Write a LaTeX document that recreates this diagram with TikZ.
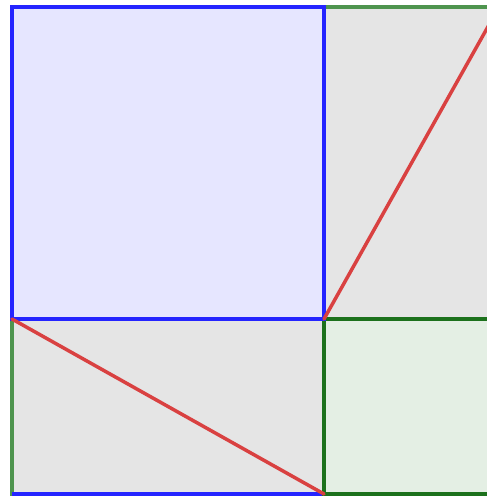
\documentclass[tikz,border=0pt]{standalone}
\begin{document}
\begin{tikzpicture}[x=1pt,y=-1pt,
  lw/.style={line width=3.5pt},
  grayrect/.style={lw, fill=graybg, draw=lightgreen},
  bluesq/.style={lw, fill=bluebg, draw=blueedge},
  greensq/.style={lw, fill=greenbg, draw=darkgreen},
  redline/.style={lw, draw=redline, line cap=round}]
\definecolor{graybg}{HTML}{E5E5E5}
\definecolor{lightgreen}{HTML}{4E944E}
\definecolor{darkgreen}{HTML}{1C711C}
\definecolor{greenbg}{HTML}{E4EFE4}
\definecolor{bluebg}{HTML}{E6E6FF}
\definecolor{blueedge}{HTML}{2424FF}
\definecolor{redline}{HTML}{D94141}
\useasboundingbox (0,0) rectangle (487,496);
\clip (0,0) rectangle (487,496);
\fill[white] (0,0) rectangle (487,496);
% top-right gray rectangle
\draw[grayrect] (324,7) rectangle (499,319);
\coordinate (trbl) at (324,319);
\coordinate (trtr) at (499,7);
% bottom-left gray rectangle
\draw[grayrect] (12,319) rectangle (324,494);
\coordinate (bltl) at (12,319);
\coordinate (blbr) at (324,494);
\draw[lw, draw=blueedge] (12,494) -- (324,494);
% green square
\draw[greensq] (324,319) rectangle (499,494);
% blue square
\draw[bluesq] (12,7) rectangle (324,319);
% diagonals
\draw[redline] (trbl) -- (trtr);
\draw[redline] (bltl) -- (blbr);
\end{tikzpicture}
\end{document}
